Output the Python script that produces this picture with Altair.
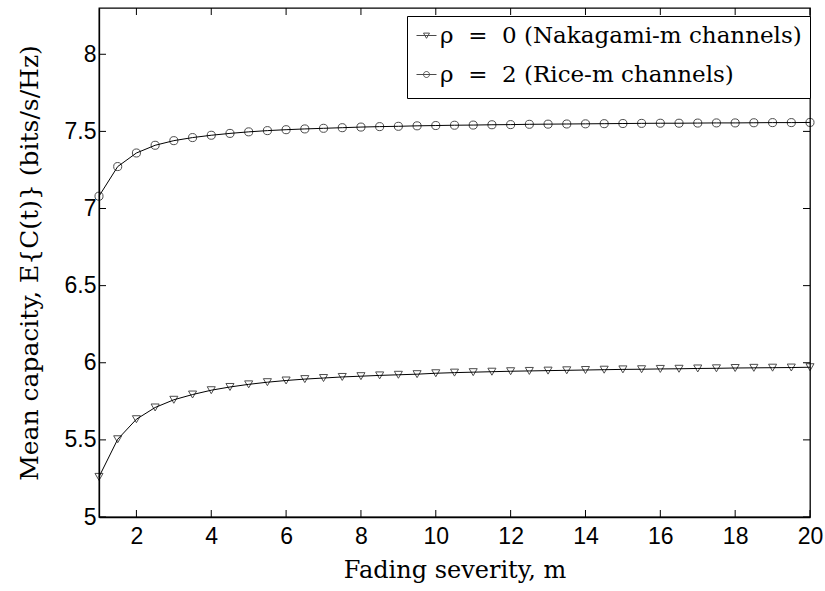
import altair as alt
import pandas as pd

# fading severity grid
m_vals = [1.0, 1.5, 2.0, 2.5, 3.0, 3.5, 4.0, 4.5, 5.0, 5.5, 6.0, 6.5, 7.0, 7.5, 8.0, 8.5,
          9.0, 9.5, 10.0, 10.5, 11.0, 11.5, 12.0, 12.5, 13.0, 13.5, 14.0, 14.5, 15.0,
          15.5, 16.0, 16.5, 17.0, 17.5, 18.0, 18.5, 19.0, 19.5, 20.0]

# rho = 0 (Nakagami-m)
naka = [5.26, 5.504, 5.634, 5.71, 5.76, 5.794, 5.822, 5.843, 5.86, 5.874, 5.885, 5.894,
        5.901, 5.908, 5.913, 5.918, 5.922, 5.926, 5.932, 5.936, 5.939, 5.942, 5.945,
        5.947, 5.949, 5.951, 5.953, 5.955, 5.957, 5.958, 5.96, 5.961, 5.963, 5.964,
        5.966, 5.967, 5.968, 5.969, 5.971]

# rho = 2 (Rice-m)
rice = [7.08, 7.272, 7.36, 7.41, 7.44, 7.46, 7.475, 7.487, 7.497, 7.505, 7.511, 7.516,
        7.52, 7.524, 7.528, 7.531, 7.533, 7.536, 7.538, 7.54, 7.541, 7.543, 7.544,
        7.546, 7.547, 7.548, 7.549, 7.55, 7.551, 7.552, 7.553, 7.553, 7.554, 7.555,
        7.555, 7.556, 7.557, 7.557, 7.558]

NB = "\u00a0"
labels = ["ρ" + NB * 2 + "=" + NB * 2 + "0 (Nakagami-m channels)",
          "ρ" + NB * 2 + "=" + NB * 2 + "2 (Rice-m channels)"]
x_ticks = [2, 4, 6, 8, 10, 12, 14, 16, 18, 20]
y_ticks = [5, 5.5, 6, 6.5, 7, 7.5, 8]

W, H = 711, 509
SERIF = "DejaVu Serif"
SANS = "Liberation Sans"

df = pd.DataFrame({
    "m": m_vals * 2,
    "value": naka + rice,
    "series": [labels[0]] * len(m_vals) + [labels[1]] * len(m_vals),
})
xt = pd.DataFrame({"m": x_ticks})
yt = pd.DataFrame({"value": y_ticks})

xscale = alt.Scale(domain=[1, 20], nice=False, zero=False)
yscale = alt.Scale(domain=[5, 8.3], nice=False, zero=False)

xaxis = alt.Axis(values=x_ticks, title="Fading severity, m", tickSize=0, labelPadding=8,
                 labelFont=SANS, labelFontSize=23, labelColor="black",
                 titleFont=SERIF, titleFontSize=24, titleFontWeight="normal",
                 titleColor="black", titlePadding=10, domainColor="black", grid=False,
                 labelFlush=False)
yaxis = alt.Axis(values=y_ticks, title="Mean capacity, E{C(t)} (bits/s/Hz)", format="~g",
                 tickSize=0, labelPadding=3, labelFont=SANS, labelFontSize=23,
                 labelColor="black", titleFont=SERIF, titleFontSize=25,
                 titleFontWeight="normal", titleColor="black", titlePadding=22,
                 domainColor="black", grid=False)

tri_path = "M0,-1.3M0,1.3M-1,0L1,0M-0.3,-0.24L0.3,-0.24L0,0.28Z"
circ_path = "M0,-1.3M0,1.3M-1,0L1,0M-0.3,0A0.3,0.3 0 1,0 0.3,0A0.3,0.3 0 1,0 -0.3,0"

X = alt.X("m:Q", scale=xscale, axis=xaxis)
Y = alt.Y("value:Q", scale=yscale, axis=yaxis)

lines = alt.Chart(df).mark_line(color="black", strokeWidth=1).encode(
    x=X, y=Y, detail="series:N",
)

points = alt.Chart(df).mark_point(filled=False, color="black", strokeWidth=1, size=65).encode(
    x=X, y=Y,
    shape=alt.Shape("series:N",
                    scale=alt.Scale(domain=labels, range=["triangle-down", "circle"]),
                    legend=None),
)

legend_layer = alt.Chart(df).transform_filter("datum.m > 1000").mark_point(
    filled=False, color="black", strokeWidth=1, size=400).encode(
    x=X, y=Y,
    shape=alt.Shape(
        "series:N",
        scale=alt.Scale(domain=labels, range=[tri_path, circ_path]),
        legend=alt.Legend(
            title=None, orient="none", legendX=308, legendY=8,
            strokeColor="black", fillColor="white", padding=8, cornerRadius=0,
            labelFont=SERIF, labelFontSize=23, labelColor="black",
            labelLimit=0, labelOffset=2, rowPadding=8, symbolSize=400,
            symbolStrokeColor="black", symbolFillColor="transparent", symbolStrokeWidth=1,
        ),
    ),
)

tb = alt.Chart(xt).mark_rule(color="black", strokeWidth=1).encode(
    x=X, y=alt.value(H), y2=alt.value(H - 7))
tt = alt.Chart(xt).mark_rule(color="black", strokeWidth=1).encode(
    x=X, y=alt.value(0), y2=alt.value(7))
tl = alt.Chart(yt).mark_rule(color="black", strokeWidth=1).encode(
    y=Y, x=alt.value(0), x2=alt.value(7))
tr = alt.Chart(yt).mark_rule(color="black", strokeWidth=1).encode(
    y=Y, x=alt.value(W), x2=alt.value(W - 7))

chart = alt.layer(lines, tb, tt, tl, tr, points, legend_layer).resolve_scale(
    shape="independent"
).properties(
    width=W, height=H,
    autosize=alt.AutoSizeParams(type="none"),
    padding={"left": 99, "top": 8, "right": 15, "bottom": 74},
    background="white",
).configure_view(stroke="black", strokeWidth=1.3).configure_axis(domainWidth=1.3)

chart.save("out.html", embed_options={"renderer": "svg", "actions": False})
